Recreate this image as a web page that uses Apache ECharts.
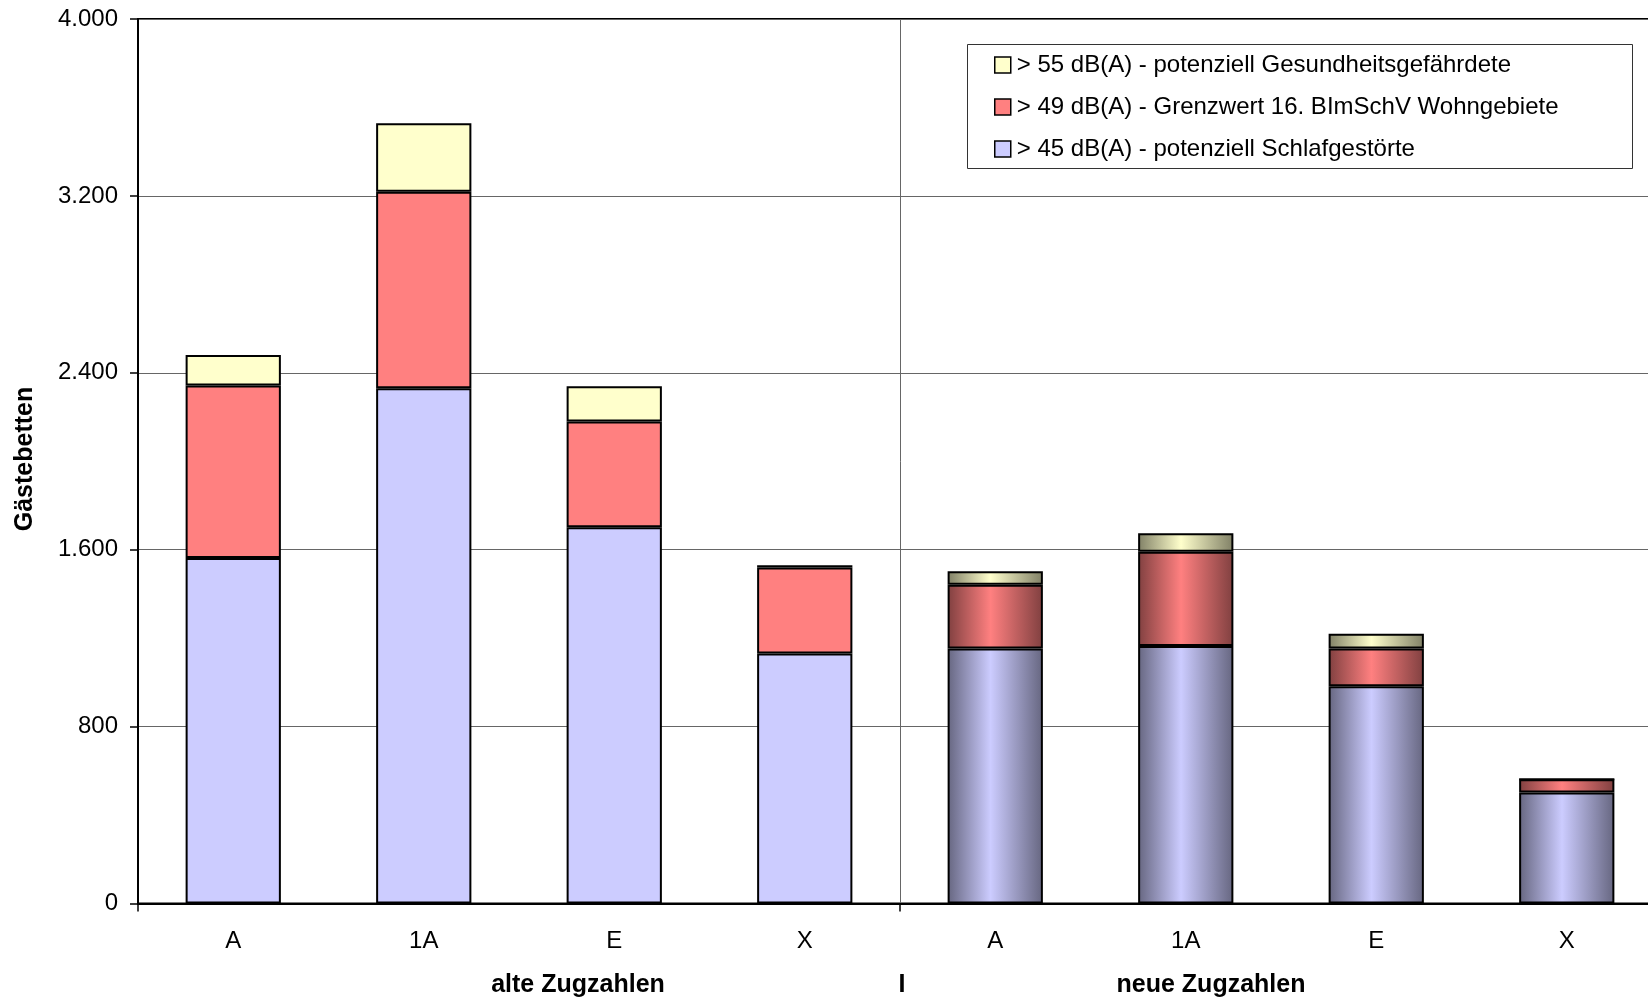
<!DOCTYPE html>
<html>
<head>
<meta charset="utf-8">
<title>Gästebetten</title>
<script src="https://cdn.jsdelivr.net/npm/echarts@6/dist/echarts.min.js"></script>
<style>
  html, body { margin: 0; padding: 0; background: #fff; overflow: hidden; width: 1648px; height: 1004px; }
  /* the plot area runs on past the right edge of the page */
  #chart { width: 1662px; height: 1004px; }
</style>
</head>
<body>
<div id="chart"></div>
<script>
// Categories: four train classes for the old and for the new train counts
const categories = ['A', '1A', 'E', 'X', 'A', '1A', 'E', 'X'];

// Guest beds per noise level (stacked from bottom to top)
const beds45 = [1562, 2330, 1702, 1131, 1153, 1164, 982, 502];
const beds49 = [781, 889, 478, 389, 289, 427, 171, 60];
const beds55 = [137, 309, 159, 10, 60, 83, 67, 0];

// Value axis ticks
const yTicks = [0, 800, 1600, 2400, 3200, 4000];

const seriesNames = [
  '> 45 dB(A) - potenziell Schlafgestörte',
  '> 49 dB(A) - Grenzwert 16. BImSchV Wohngebiete',
  '> 55 dB(A) - potenziell Gesundheitsgefährdete'
];
const baseColors = ['#CCCCFF', '#FF8080', '#FFFFCC'];
const edgeColors = ['#666680', '#804040', '#808066'];

// Bars of the new train counts (index 4..7) get a cylinder-like shading
function shaded(i) {
  return {
    type: 'linear', x: 0, y: 0, x2: 1, y2: 0,
    colorStops: [
      { offset: 0, color: edgeColors[i] },
      { offset: 0.45, color: baseColors[i] },
      { offset: 1, color: edgeColors[i] }
    ]
  };
}
function buildData(values, i) {
  return values.map((v, idx) => idx >= 4
    ? { value: v, itemStyle: { color: shaded(i) } }
    : v);
}

const valueSets = [beds45, beds49, beds55];
const series = valueSets.map((vals, i) => ({
  name: seriesNames[i],
  type: 'bar',
  stack: 'beds',
  barWidth: '50%',
  data: buildData(vals, i),
  itemStyle: { color: baseColors[i], borderColor: '#000', borderWidth: 2 },
  emphasis: { disabled: true }
}));

const fontFamily = '"Liberation Sans", Arial, sans-serif';

function formatThousands(v) {
  return String(v).replace(/\B(?=(\d{3})+(?!\d))/g, '.');
}

// ticks and the vertical divider sit between the two groups of four classes
const groupBoundary = idx => idx % 4 === 0;

const chart = echarts.init(document.getElementById('chart'));
chart.setOption({
  animation: false,
  backgroundColor: '#fff',
  textStyle: { fontFamily: fontFamily },
  grid: {
    left: 138, top: 19, right: 0, bottom: 100.5,
    show: true, borderColor: '#000', borderWidth: 2,
    backgroundColor: 'transparent'
  },
  legend: {
    orient: 'vertical',
    left: 994, top: 53,
    padding: 0,
    itemGap: 18,
    itemWidth: 16, itemHeight: 16,
    icon: 'rect',
    data: [seriesNames[2], seriesNames[1], seriesNames[0]],
    itemStyle: { borderColor: '#000', borderWidth: 1.5 },
    textStyle: { fontSize: 24, lineHeight: 24, color: '#000', fontFamily: fontFamily, padding: [0, 0, 0, 1] },
    selectedMode: false
  },
  xAxis: {
    type: 'category',
    data: categories,
    boundaryGap: true,
    axisLine: { lineStyle: { color: '#000', width: 2 } },
    axisTick: { show: true, interval: groupBoundary, length: 8, lineStyle: { color: '#000', width: 1.5 } },
    splitLine: { show: true, interval: groupBoundary, lineStyle: { color: '#666', width: 1 } },
    axisLabel: { color: '#000', fontSize: 24, margin: 26, interval: 0, fontFamily: fontFamily }
  },
  yAxis: {
    type: 'value',
    min: yTicks[0],
    max: yTicks[yTicks.length - 1],
    interval: yTicks[1] - yTicks[0],
    axisLine: { show: true, lineStyle: { color: '#000', width: 2 } },
    axisTick: { show: true, length: 8, lineStyle: { color: '#000', width: 1.5 } },
    splitLine: { show: true, lineStyle: { color: '#666', width: 1 } },
    axisLabel: {
      color: '#000', fontSize: 24, margin: 20, fontFamily: fontFamily,
      formatter: v => formatThousands(v)
    }
  },
  graphic: [
    {
      type: 'rect', z: 3,
      shape: { x: 967.5, y: 44.5, width: 665, height: 124 },
      style: { fill: '#fff', stroke: '#333', lineWidth: 1 }
    },
    {
      type: 'text', x: 25, y: 459, rotation: Math.PI / 2,
      style: {
        text: 'Gästebetten', fill: '#000', align: 'center', verticalAlign: 'middle',
        font: 'bold 25px ' + fontFamily
      }
    },
    {
      type: 'text', x: 578, y: 985,
      style: {
        text: 'alte Zugzahlen', fill: '#000', align: 'center', verticalAlign: 'middle',
        font: 'bold 25px ' + fontFamily
      }
    },
    {
      type: 'text', x: 902, y: 985,
      style: {
        text: 'I', fill: '#000', align: 'center', verticalAlign: 'middle',
        font: 'bold 25px ' + fontFamily
      }
    },
    {
      type: 'text', x: 1211, y: 985,
      style: {
        text: 'neue Zugzahlen', fill: '#000', align: 'center', verticalAlign: 'middle',
        font: 'bold 25px ' + fontFamily
      }
    }
  ],
  series: series
});
</script>
</body>
</html>
